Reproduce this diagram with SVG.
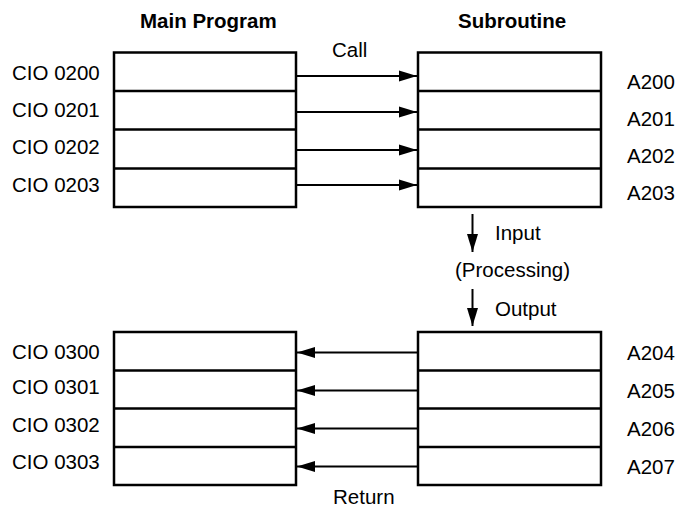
<svg xmlns="http://www.w3.org/2000/svg" width="678" height="510" viewBox="0 0 678 510">
  <style>
    text { font-family: "Liberation Sans", Arial, sans-serif; font-size: 20.5px; fill: #000; }
    .title { font-weight: bold; }
    .box { fill: #fff; stroke: #000; stroke-width: 2.5; }
    .div { stroke: #000; stroke-width: 2.5; }
    .conn { stroke: #000; stroke-width: 2; fill: none; marker-end: url(#ah); }
  </style>
  <defs>
    <marker id="ah" markerUnits="userSpaceOnUse" markerWidth="18" markerHeight="12" refX="18" refY="6" orient="auto">
      <path d="M0,0.5 L18,6 L0,11.5 z" fill="#000"/>
    </marker>
  </defs>
  <rect width="678" height="510" fill="#fff"/>

  <text class="title" x="140" y="27.5">Main Program</text>
  <text class="title" x="458" y="27.5">Subroutine</text>

  <g id="main-top">
    <rect class="box" x="114" y="52.5" width="182" height="154.5"/>
    <line class="div" x1="114" y1="91" x2="296" y2="91"/>
    <line class="div" x1="114" y1="129.5" x2="296" y2="129.5"/>
    <line class="div" x1="114" y1="168.5" x2="296" y2="168.5"/>
    <text x="12" y="80">CIO 0200</text>
    <text x="12" y="117">CIO 0201</text>
    <text x="12" y="154">CIO 0202</text>
    <text x="12" y="192">CIO 0203</text>
  </g>

  <g id="sub-top">
    <rect class="box" x="418" y="52.5" width="183" height="154.5"/>
    <line class="div" x1="418" y1="91" x2="601" y2="91"/>
    <line class="div" x1="418" y1="129.5" x2="601" y2="129.5"/>
    <line class="div" x1="418" y1="168.5" x2="601" y2="168.5"/>
    <text x="627" y="89">A200</text>
    <text x="627" y="125.5">A201</text>
    <text x="627" y="163">A202</text>
    <text x="627" y="199.5">A203</text>
  </g>

  <g id="main-bottom">
    <rect class="box" x="114" y="332" width="182" height="153"/>
    <line class="div" x1="114" y1="370.5" x2="296" y2="370.5"/>
    <line class="div" x1="114" y1="408.5" x2="296" y2="408.5"/>
    <line class="div" x1="114" y1="447" x2="296" y2="447"/>
    <text x="12" y="359">CIO 0300</text>
    <text x="12" y="394">CIO 0301</text>
    <text x="12" y="432">CIO 0302</text>
    <text x="12" y="469">CIO 0303</text>
  </g>

  <g id="sub-bottom">
    <rect class="box" x="418" y="332" width="183" height="153"/>
    <line class="div" x1="418" y1="370.5" x2="601" y2="370.5"/>
    <line class="div" x1="418" y1="408.5" x2="601" y2="408.5"/>
    <line class="div" x1="418" y1="447" x2="601" y2="447"/>
    <text x="627" y="359.5">A204</text>
    <text x="627" y="398">A205</text>
    <text x="627" y="436">A206</text>
    <text x="627" y="474">A207</text>
  </g>

  <g id="connectors">
    <line class="conn" x1="297" y1="76" x2="417" y2="76"/>
    <line class="conn" x1="297" y1="112" x2="417" y2="112"/>
    <line class="conn" x1="297" y1="150" x2="417" y2="150"/>
    <line class="conn" x1="297" y1="185" x2="417" y2="185"/>
    <line class="conn" x1="472.5" y1="214" x2="472.5" y2="252"/>
    <line class="conn" x1="472.5" y1="289" x2="472.5" y2="326"/>
    <line class="conn" x1="417" y1="352.5" x2="297" y2="352.5"/>
    <line class="conn" x1="417" y1="390.5" x2="297" y2="390.5"/>
    <line class="conn" x1="417" y1="428.5" x2="297" y2="428.5"/>
    <line class="conn" x1="417" y1="466.5" x2="297" y2="466.5"/>
    <text x="332" y="57">Call</text>
    <text x="495" y="239.5">Input</text>
    <text x="455" y="277">(Processing)</text>
    <text x="495" y="315.5">Output</text>
    <text x="333" y="504">Return</text>
  </g>
</svg>
